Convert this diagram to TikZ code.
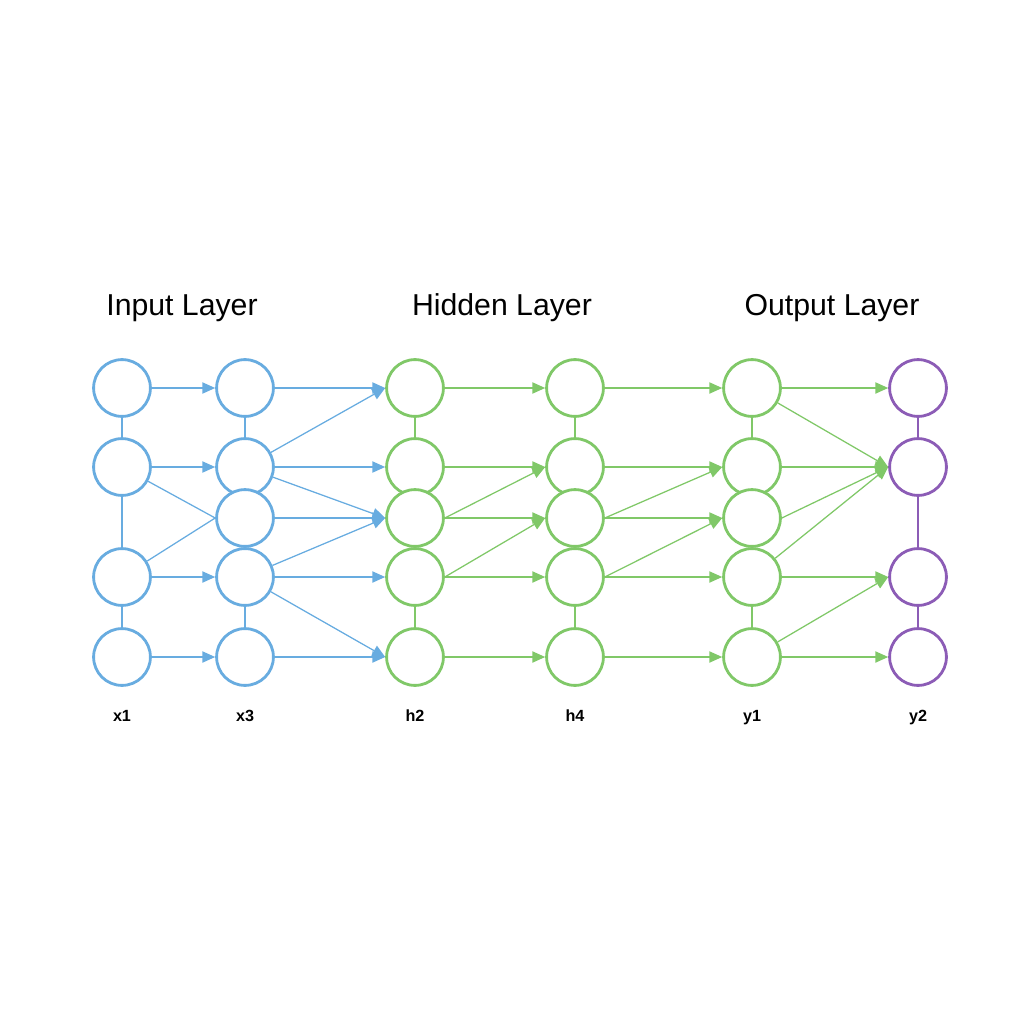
\documentclass[tikz,border=0pt]{standalone}
\usepackage{fontspec}
\setmainfont{Liberation Sans}
\usetikzlibrary{arrows.meta}
\definecolor{inblue}{RGB}{104,172,224}
\definecolor{hidgreen}{RGB}{128,200,104}
\definecolor{outpurple}{RGB}{140,92,182}

\begin{document}
\begin{tikzpicture}[x=0.025cm, y=-0.025cm,
        neuron/.style={circle, draw=#1, line width=2pt, minimum size=1.42cm, inner sep=0pt, fill=white},
        conn/.style={line width=0.9pt, -{Triangle[length=3.2mm, width=2.8mm]}},
        link/.style={line width=0.9pt},
        title/.style={font=\fontsize{21.5}{25}\selectfont},
        tag/.style={font=\bfseries\fontsize{11.5}{13}\selectfont, text height=1.6ex, text depth=0.3ex}]
    \useasboundingbox (0,0) rectangle (1024,1024);

    \node [title] (tin) at (182,308) {Input Layer};
    \node [title] (thid) at (502,308) {Hidden Layer};
    \node [title] (tout) at (832,308) {Output Layer};

    % vertical links
    \draw [inblue, link] (122,388) -- (122,657);
    \draw [inblue, link] (245,388) -- (245,657);
    \draw [hidgreen, link] (415,388) -- (415,657);
    \draw [hidgreen, link] (575,388) -- (575,657);
    \draw [hidgreen, link] (752,388) -- (752,657);
    \draw [outpurple, link] (918,388) -- (918,657);

    \node (a1) [neuron=inblue] at (122,388) {};
    \node (a2) [neuron=inblue] at (122,467) {};
    \node (a4) [neuron=inblue] at (122,577) {};
    \node (a5) [neuron=inblue] at (122,657) {};

    \node (b1) [neuron=inblue] at (245,388) {};
    \node (b2) [neuron=inblue] at (245,467) {};
    \node (b5) [neuron=inblue] at (245,657) {};
    \node (b3) [neuron=inblue] at (245,518) {};
    \node (b4) [neuron=inblue] at (245,577) {};

    \foreach \c/\x in {c/415, d/575, e/752} {
        \node (\c1) [neuron=hidgreen] at (\x,388) {};
        \node (\c2) [neuron=hidgreen] at (\x,467) {};
        \node (\c5) [neuron=hidgreen] at (\x,657) {};
        \node (\c3) [neuron=hidgreen] at (\x,518) {};
        \node (\c4) [neuron=hidgreen] at (\x,577) {};
    }

    \node (f1) [neuron=outpurple] at (918,388) {};
    \node (f2) [neuron=outpurple] at (918,467) {};
    \node (f4) [neuron=outpurple] at (918,577) {};
    \node (f5) [neuron=outpurple] at (918,657) {};

    % input layer
    \draw [inblue, conn] (a1) -- (b1);
    \draw [inblue, conn] (a2) -- (b2);
    \draw [inblue, conn] (a4) -- (b4);
    \draw [inblue, conn] (a5) -- (b5);
    \draw [inblue, link] (a2) -- (b3.west);
    \draw [inblue, link] (a4) -- (b3.west);

    \draw [inblue, conn] (b1) -- (c1.west);
    \draw [inblue, conn] (b2) -- (c1.west);
    \draw [inblue, conn] (b2) -- (c2.west);
    \draw [inblue, conn] (b2) -- (c3.west);
    \draw [inblue, conn] (b3) -- (c3.west);
    \draw [inblue, conn] (b4) -- (c3.west);
    \draw [inblue, conn] (b4) -- (c4.west);
    \draw [inblue, conn] (b4) -- (c5.west);
    \draw [inblue, conn] (b5) -- (c5.west);

    % hidden layers
    \foreach \p/\q in {c/d, d/e} {
        \draw [hidgreen, conn] (\p1) -- (\q1.west);
        \draw [hidgreen, conn] (\p2) -- (\q2.west);
        \draw [hidgreen, conn] (\p3.east) -- (\q2.west);
        \draw [hidgreen, conn] (\p3.east) -- (\q3.west);
        \draw [hidgreen, conn] (\p4.east) -- (\q3.west);
        \draw [hidgreen, conn] (\p4) -- (\q4.west);
        \draw [hidgreen, conn] (\p5) -- (\q5.west);
    }

    % output layer
    \draw [hidgreen, conn] (e1) -- (f1.west);
    \draw [hidgreen, conn] (e1) -- (f2.west);
    \draw [hidgreen, conn] (e2) -- (f2.west);
    \draw [hidgreen, conn] (e3.east) -- (f2.west);
    \draw [hidgreen, conn] (e4) -- (f2.west);
    \draw [hidgreen, conn] (e4) -- (f4.west);
    \draw [hidgreen, conn] (e5) -- (f4.west);
    \draw [hidgreen, conn] (e5) -- (f5.west);

    \node [tag] (lx1) at (122,717) {x1};
    \node [tag] (lx3) at (245,717) {x3};
    \node [tag] (lh2) at (415,717) {h2};
    \node [tag] (lh4) at (575,717) {h4};
    \node [tag] (ly1) at (752,717) {y1};
    \node [tag] (ly2) at (918,717) {y2};
\end{tikzpicture}
\end{document}
